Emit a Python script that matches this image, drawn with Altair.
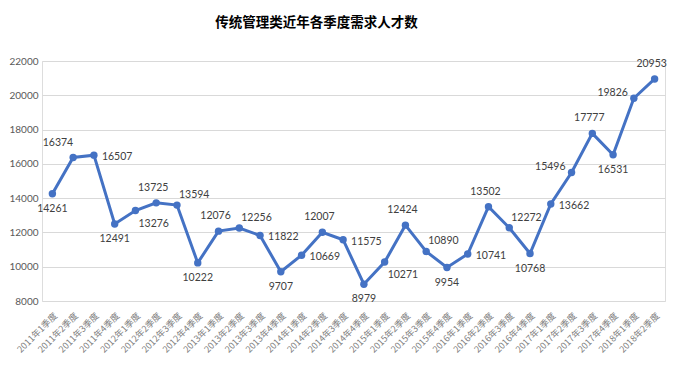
import altair as alt
import pandas as pd

quarters = [
    "2011年1季度", "2011年2季度", "2011年3季度", "2011年4季度",
    "2012年1季度", "2012年2季度", "2012年3季度", "2012年4季度",
    "2013年1季度", "2013年2季度", "2013年3季度", "2013年4季度",
    "2014年1季度", "2014年2季度", "2014年3季度", "2014年4季度",
    "2015年1季度", "2015年2季度", "2015年3季度", "2015年4季度",
    "2016年1季度", "2016年2季度", "2016年3季度", "2016年4季度",
    "2017年1季度", "2017年2季度", "2017年3季度", "2017年4季度",
    "2018年1季度", "2018年2季度",
]
values = [
    14261, 16374, 16507, 12491,
    13276, 13725, 13594, 10222,
    12076, 12256, 11822, 9707,
    10669, 12007, 11575, 8979,
    10271, 12424, 10890, 9954,
    10741, 13502, 12272, 10768,
    13662, 15496, 17777, 16531,
    19826, 20953,
]
y_ticks = [8000, 10000, 12000, 14000, 16000, 18000, 20000, 22000]

df = pd.DataFrame({"q": quarters, "v": values})

# label placement groups (index of point in series)
label_groups = {
    "below": [0, 3, 7, 11, 15, 19, 23, 27],
    "above": [5, 8, 13, 17, 21, 26, 29],
    "above_left": [1],
    "above_right": [6, 9, 18, 22],
    "right": [2, 10, 12, 14, 20, 24],
    "below_right": [4, 16],
    "left": [25, 28],
}
label_style = {
    "below": dict(align="center", dx=0, dy=15),
    "above": dict(align="center", dx=-3, dy=-15),
    "above_left": dict(align="right", dx=0, dy=-14),
    "above_right": dict(align="left", dx=2, dy=-10),
    "right": dict(align="left", dx=8, dy=2),
    "below_right": dict(align="left", dx=3, dy=13),
    "left": dict(align="right", dx=-6, dy=-5),
}

blue = "#4472C4"
num_font = "Lato"

x_enc = alt.X("q:N", sort=quarters, title=None,
              scale=alt.Scale(type="point", padding=0.5),
              axis=alt.Axis(labelAngle=-45, labelFont="Noto Sans CJK SC",
                            labelFontSize=9, labelColor="#7f7f7f",
                            labelPadding=10, ticks=False, domain=False,
                            grid=False, labelOverlap=False))
y_enc = alt.Y("v:Q", title=None,
              scale=alt.Scale(domain=[8000, 22000], nice=False, zero=False),
              axis=alt.Axis(values=y_ticks, format="d", labelFont=num_font,
                            labelFontSize=10, labelColor="#595959",
                            labelPadding=4, ticks=False, domain=False,
                            gridColor="#d9d9d9", gridWidth=1))

base = alt.Chart(df).encode(x=x_enc, y=y_enc)
line = base.mark_line(color=blue, strokeWidth=3)
pts = base.mark_circle(color=blue, size=55, opacity=1)

layers = [line, pts]
for name, idxs in label_groups.items():
    st = label_style[name]
    sel = [quarters[i] for i in idxs]
    layers.append(
        base.transform_filter(alt.FieldOneOfPredicate(field="q", oneOf=sel))
        .mark_text(font=num_font, fontSize=10.5, color="#404040",
                   baseline="middle", **st)
        .encode(text=alt.Text("v:Q", format="d"))
    )

chart = alt.layer(*layers).properties(
    width=623, height=240,
    title=alt.TitleParams("传统管理类近年各季度需求人才数",
                          font="Noto Sans CJK SC", fontSize=13.5,
                          fontWeight="bold", color="#000000",
                          anchor="middle", dx=-37, offset=27),
    autosize=alt.AutoSizeParams(type="none"),
    padding={"left": 34, "top": 53, "right": 3, "bottom": 60},
).configure_view(stroke=None).configure(background="white")

chart.save("out.html", embed_options={"renderer": "svg", "actions": False})
